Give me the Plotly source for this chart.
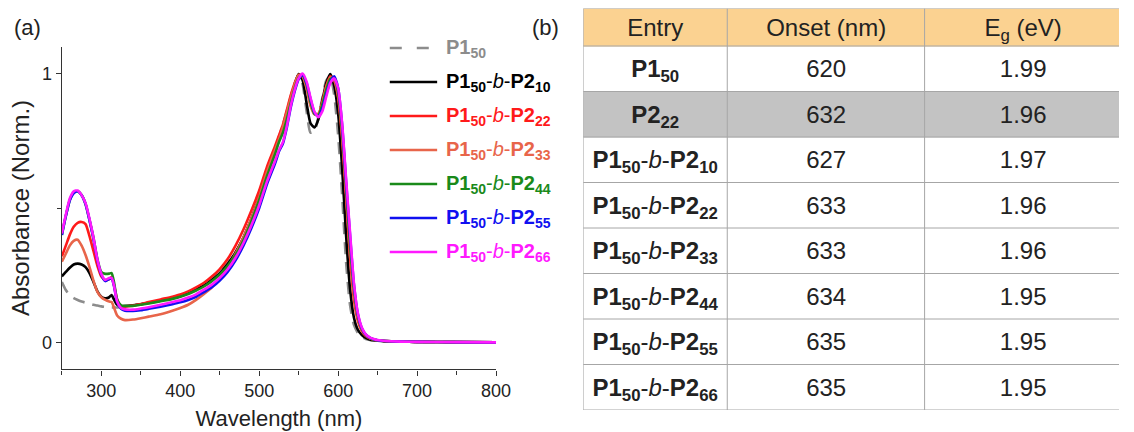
import plotly.graph_objects as go

# ---------------- data ----------------
wavelength = [250, 255, 260, 265, 270, 275, 280, 285, 290, 295,
              300, 305, 310, 313, 316, 320, 325, 330, 340, 350,
              360, 375, 390, 400, 410, 420, 430, 440, 450, 460,
              470, 480, 490, 500, 510, 520, 525, 530, 535, 540,
              545, 550, 555, 560, 565, 570, 575, 580, 585, 590,
              595, 600, 605, 610, 615, 620, 625, 630, 635, 640,
              645, 650, 660, 680, 700, 750, 800]

p1_50 = [0.225, 0.195, 0.175, 0.165, 0.158, 0.152, 0.148, 0.144, 0.140, 0.137,
         0.134, 0.132, 0.130, 0.130, 0.130, 0.130, 0.132, 0.133, 0.137, 0.142,
         0.147, 0.155, 0.166, 0.175, 0.186, 0.200, 0.216, 0.236, 0.262, 0.295,
         0.335, 0.390, 0.460, 0.545, 0.640, 0.720, 0.765, 0.810, 0.860, 0.915,
         0.965, 0.998, 0.960, 0.860, 0.780, 0.785, 0.840, 0.910, 0.975, 0.990,
         0.920, 0.770, 0.550, 0.300, 0.140, 0.065, 0.035, 0.020, 0.013, 0.009,
         0.007, 0.005, 0.004, 0.003, 0.002, 0.001, 0.000]

b_p2_10 = [0.246, 0.262, 0.278, 0.290, 0.293, 0.290, 0.280, 0.258, 0.225, 0.190,
           0.170, 0.164, 0.168, 0.176, 0.160, 0.140, 0.135, 0.135, 0.138, 0.142,
           0.147, 0.155, 0.164, 0.172, 0.183, 0.196, 0.212, 0.232, 0.258, 0.292,
           0.335, 0.390, 0.460, 0.540, 0.635, 0.715, 0.760, 0.800, 0.850, 0.905,
           0.960, 0.998, 0.975, 0.890, 0.815, 0.800, 0.830, 0.900, 0.965, 0.998,
           0.955, 0.850, 0.650, 0.400, 0.200, 0.092, 0.047, 0.027, 0.017, 0.011,
           0.008, 0.006, 0.004, 0.003, 0.002, 0.001, 0.000]

b_p2_22 = [0.320, 0.360, 0.400, 0.430, 0.445, 0.448, 0.440, 0.395, 0.340, 0.285,
           0.245, 0.232, 0.236, 0.243, 0.215, 0.160, 0.135, 0.134, 0.137, 0.143,
           0.150, 0.160, 0.170, 0.178, 0.190, 0.205, 0.222, 0.245, 0.273, 0.310,
           0.360, 0.420, 0.490, 0.565, 0.655, 0.730, 0.770, 0.810, 0.865, 0.920,
           0.965, 0.995, 0.990, 0.950, 0.885, 0.852, 0.850, 0.895, 0.955, 0.990,
           0.975, 0.910, 0.760, 0.540, 0.320, 0.160, 0.080, 0.042, 0.024, 0.015,
           0.010, 0.008, 0.005, 0.003, 0.002, 0.001, 0.000]

b_p2_33 = [0.300, 0.330, 0.360, 0.378, 0.382, 0.360, 0.325, 0.280, 0.230, 0.188,
           0.168, 0.158, 0.152, 0.150, 0.130, 0.100, 0.088, 0.083, 0.085, 0.090,
           0.096, 0.105, 0.118, 0.128, 0.140, 0.158, 0.180, 0.205, 0.240, 0.280,
           0.330, 0.390, 0.460, 0.540, 0.635, 0.715, 0.755, 0.800, 0.855, 0.910,
           0.960, 0.995, 0.990, 0.945, 0.880, 0.848, 0.850, 0.890, 0.950, 0.985,
           0.975, 0.915, 0.770, 0.560, 0.350, 0.180, 0.090, 0.047, 0.026, 0.016,
           0.011, 0.008, 0.005, 0.003, 0.002, 0.001, 0.000]

b_p2_44 = [0.400, 0.470, 0.530, 0.558, 0.562, 0.548, 0.515, 0.455, 0.390, 0.310,
           0.262, 0.255, 0.256, 0.258, 0.225, 0.160, 0.138, 0.136, 0.136, 0.140,
           0.145, 0.153, 0.162, 0.170, 0.180, 0.193, 0.208, 0.228, 0.253, 0.285,
           0.325, 0.380, 0.450, 0.530, 0.620, 0.700, 0.745, 0.780, 0.830, 0.890,
           0.945, 0.985, 0.995, 0.960, 0.895, 0.850, 0.845, 0.885, 0.940, 0.980,
           0.985, 0.930, 0.790, 0.580, 0.370, 0.200, 0.098, 0.050, 0.028, 0.017,
           0.011, 0.008, 0.005, 0.003, 0.002, 0.001, 0.000]

b_p2_55 = [0.400, 0.470, 0.528, 0.555, 0.562, 0.547, 0.515, 0.455, 0.385, 0.305,
           0.252, 0.228, 0.236, 0.238, 0.210, 0.150, 0.125, 0.118, 0.117, 0.120,
           0.125, 0.133, 0.142, 0.149, 0.158, 0.170, 0.187, 0.205, 0.230, 0.262,
           0.305, 0.360, 0.425, 0.500, 0.590, 0.665, 0.710, 0.740, 0.800, 0.875,
           0.935, 0.980, 0.995, 0.965, 0.905, 0.855, 0.840, 0.870, 0.925, 0.970,
           0.990, 0.945, 0.810, 0.600, 0.400, 0.215, 0.105, 0.053, 0.029, 0.018,
           0.012, 0.008, 0.005, 0.003, 0.002, 0.001, 0.000]

b_p2_66 = [0.405, 0.475, 0.535, 0.562, 0.565, 0.548, 0.518, 0.460, 0.390, 0.308,
           0.255, 0.232, 0.240, 0.240, 0.212, 0.152, 0.128, 0.123, 0.122, 0.126,
           0.131, 0.140, 0.150, 0.157, 0.167, 0.179, 0.196, 0.215, 0.240, 0.272,
           0.315, 0.370, 0.435, 0.510, 0.600, 0.675, 0.715, 0.745, 0.805, 0.880,
           0.940, 0.983, 1.000, 0.970, 0.910, 0.858, 0.838, 0.860, 0.915, 0.965,
           0.982, 0.945, 0.815, 0.610, 0.410, 0.220, 0.108, 0.055, 0.030, 0.019,
           0.013, 0.009, 0.005, 0.003, 0.002, 0.001, 0.000]

series_names = ["P1<sub>50</sub>",
                "P1<sub>50</sub>-<i>b</i>-P2<sub>10</sub>",
                "P1<sub>50</sub>-<i>b</i>-P2<sub>22</sub>",
                "P1<sub>50</sub>-<i>b</i>-P2<sub>33</sub>",
                "P1<sub>50</sub>-<i>b</i>-P2<sub>44</sub>",
                "P1<sub>50</sub>-<i>b</i>-P2<sub>55</sub>",
                "P1<sub>50</sub>-<i>b</i>-P2<sub>66</sub>"]
legend_labels = ["<b>P1<sub>50</sub></b>",
                 "<b>P1<sub>50</sub></b>-<i>b</i>-<b>P2<sub>10</sub></b>",
                 "<b>P1<sub>50</sub></b>-<i>b</i>-<b>P2<sub>22</sub></b>",
                 "<b>P1<sub>50</sub></b>-<i>b</i>-<b>P2<sub>33</sub></b>",
                 "<b>P1<sub>50</sub></b>-<i>b</i>-<b>P2<sub>44</sub></b>",
                 "<b>P1<sub>50</sub></b>-<i>b</i>-<b>P2<sub>55</sub></b>",
                 "<b>P1<sub>50</sub></b>-<i>b</i>-<b>P2<sub>66</sub></b>"]
series_values = [p1_50, b_p2_10, b_p2_22, b_p2_33, b_p2_44, b_p2_55, b_p2_66]
series_colors = ["#8c8c8c", "#000000", "#ff1a1a", "#e8654a", "#1a8a1a", "#1010f0", "#ff19ff"]
series_dash = ["12px,8px", "solid", "solid", "solid", "solid", "solid", "solid"]

# table contents
table_header = ["Entry", "Onset (nm)", "E<sub>g</sub> (eV)"]
table_entry = ["<b>P1<sub>50</sub></b>",
               "<b>P2<sub>22</sub></b>",
               "<b>P1<sub>50</sub></b>-<i>b</i>-<b>P2<sub>10</sub></b>",
               "<b>P1<sub>50</sub></b>-<i>b</i>-<b>P2<sub>22</sub></b>",
               "<b>P1<sub>50</sub></b>-<i>b</i>-<b>P2<sub>33</sub></b>",
               "<b>P1<sub>50</sub></b>-<i>b</i>-<b>P2<sub>44</sub></b>",
               "<b>P1<sub>50</sub></b>-<i>b</i>-<b>P2<sub>55</sub></b>",
               "<b>P1<sub>50</sub></b>-<i>b</i>-<b>P2<sub>66</sub></b>"]
table_onset = ["620", "632", "627", "633", "633", "634", "635", "635"]
table_eg = ["1.99", "1.96", "1.97", "1.96", "1.96", "1.95", "1.95", "1.95"]
# row style: 2 = header, 1 = shaded row, 0 = plain row
row_style = [2, 0, 1, 0, 0, 0, 0, 0, 0]
col_widths = [146, 200, 199]          # last column runs past the page edge
header_height, row_height = 37.5, 45.5

# ---------------- figure ----------------
W, H = 1134, 432
FONT = "Liberation Sans, Arial, sans-serif"

fig = go.Figure()

for name, vals, col, dash in zip(series_names, series_values, series_colors, series_dash):
    fig.add_trace(go.Scatter(
        x=wavelength, y=vals, mode="lines", name=name,
        line=dict(color=col, width=2.6, dash=dash, shape="spline", smoothing=0.6),
        showlegend=False, xaxis="x", yaxis="y"))

# ---- table (b), built as a heatmap grid on its own axes ----
col_edges = [0]
for w_ in col_widths:
    col_edges.append(col_edges[-1] + w_)
row_edges = [0, header_height]
for _ in table_entry:
    row_edges.append(row_edges[-1] + row_height)

cell_text = [table_header] + [[e, o, g] for e, o, g in zip(table_entry, table_onset, table_eg)]
cell_z = [[s, s, s] for s in row_style]

fig.add_trace(go.Heatmap(
    x=col_edges, y=row_edges, z=cell_z, text=cell_text, texttemplate="%{text}",
    textfont=dict(family=FONT, size=24, color="#222222"),
    zmin=0, zmax=2, showscale=False, hoverinfo="skip",
    colorscale=[[0, "#ffffff"], [0.5, "#c3c3c3"], [1, "#fbd291"]],
    xaxis="x2", yaxis="y2"))

table_w = 543
for xe in col_edges:
    if xe <= table_w:
        fig.add_shape(type="line", xref="x2", yref="y2", x0=xe, x1=xe,
                      y0=row_edges[0], y1=row_edges[-1],
                      line=dict(color="#a6a6a6", width=1), layer="above")
for ye in row_edges:
    fig.add_shape(type="line", xref="x2", yref="y2", x0=0, x1=table_w,
                  y0=ye, y1=ye, line=dict(color="#a6a6a6", width=1), layer="above")

# ---- hand-built legend for panel (a) ----
legend_x0, legend_x1, legend_tx = 395, 443, 450
legend_rows = [48, 82, 116, 150, 184, 218, 252]
for i, (label, col) in enumerate(zip(legend_labels, series_colors)):
    yy = 1 - legend_rows[i] / H
    fig.add_shape(type="line", xref="paper", yref="paper",
                  x0=legend_x0 / W, x1=legend_x1 / W, y0=yy, y1=yy,
                  line=dict(color=col, width=2.6,
                            dash="12px,15px" if i == 0 else "solid"))
    fig.add_annotation(xref="paper", yref="paper", x=legend_tx / W, y=yy,
                       xanchor="left", yanchor="middle", showarrow=False,
                       text=label, font=dict(family=FONT, size=20, color=col))

# panel letters
fig.add_annotation(xref="paper", yref="paper", x=12 / W, y=1 - 27 / H,
                   xanchor="left", yanchor="middle", showarrow=False,
                   text="(a)", font=dict(family=FONT, size=22, color="#222222"))
fig.add_annotation(xref="paper", yref="paper", x=537 / W, y=1 - 27 / H,
                   xanchor="left", yanchor="middle", showarrow=False,
                   text="(b)", font=dict(family=FONT, size=22, color="#222222"))

fig.update_layout(
    width=W, height=H,
    margin=dict(l=0, r=0, t=0, b=0),
    paper_bgcolor="white", plot_bgcolor="white",
    font=dict(family=FONT, color="#222222"),
    xaxis=dict(domain=[62.7 / W, 502.7 / W], range=[250, 800],
               showgrid=False, zeroline=False,
               showline=True, linecolor="#333333", linewidth=1.4,
               ticks="outside", ticklen=5, tickwidth=1.2, tickcolor="#333333",
               tickvals=[300, 400, 500, 600, 700, 800],
               minor=dict(dtick=50, tick0=250, ticks="outside", ticklen=4,
                          tickwidth=1.2, tickcolor="#333333"),
               tickfont=dict(family=FONT, size=18, color="#222222"),
               title=dict(text="Wavelength (nm)", standoff=10,
                          font=dict(family=FONT, size=22, color="#222222"))),
    yaxis=dict(domain=[1 - 369.3 / H, 1 - 46.7 / H], range=[-0.1, 1.1],
               showgrid=False, zeroline=False,
               showline=True, linecolor="#333333", linewidth=1.4,
               ticks="outside", ticklen=5, tickwidth=1.2, tickcolor="#333333",
               tickvals=[0, 1],
               minor=dict(tickvals=[0.5], ticks="outside", ticklen=4,
                          tickwidth=1.2, tickcolor="#333333"),
               tickfont=dict(family=FONT, size=18, color="#222222"),
               title=dict(text="Absorbance (Norm.)", standoff=5,
                          font=dict(family=FONT, size=24, color="#222222"))),
    xaxis2=dict(domain=[591 / W, 1.0], range=[0, table_w], visible=False,
                fixedrange=True),
    yaxis2=dict(domain=[1 - 410 / H, 1 - 8.5 / H], range=[row_edges[-1], 0],
                visible=False, fixedrange=True),
)

fig.write_html("out.html")
